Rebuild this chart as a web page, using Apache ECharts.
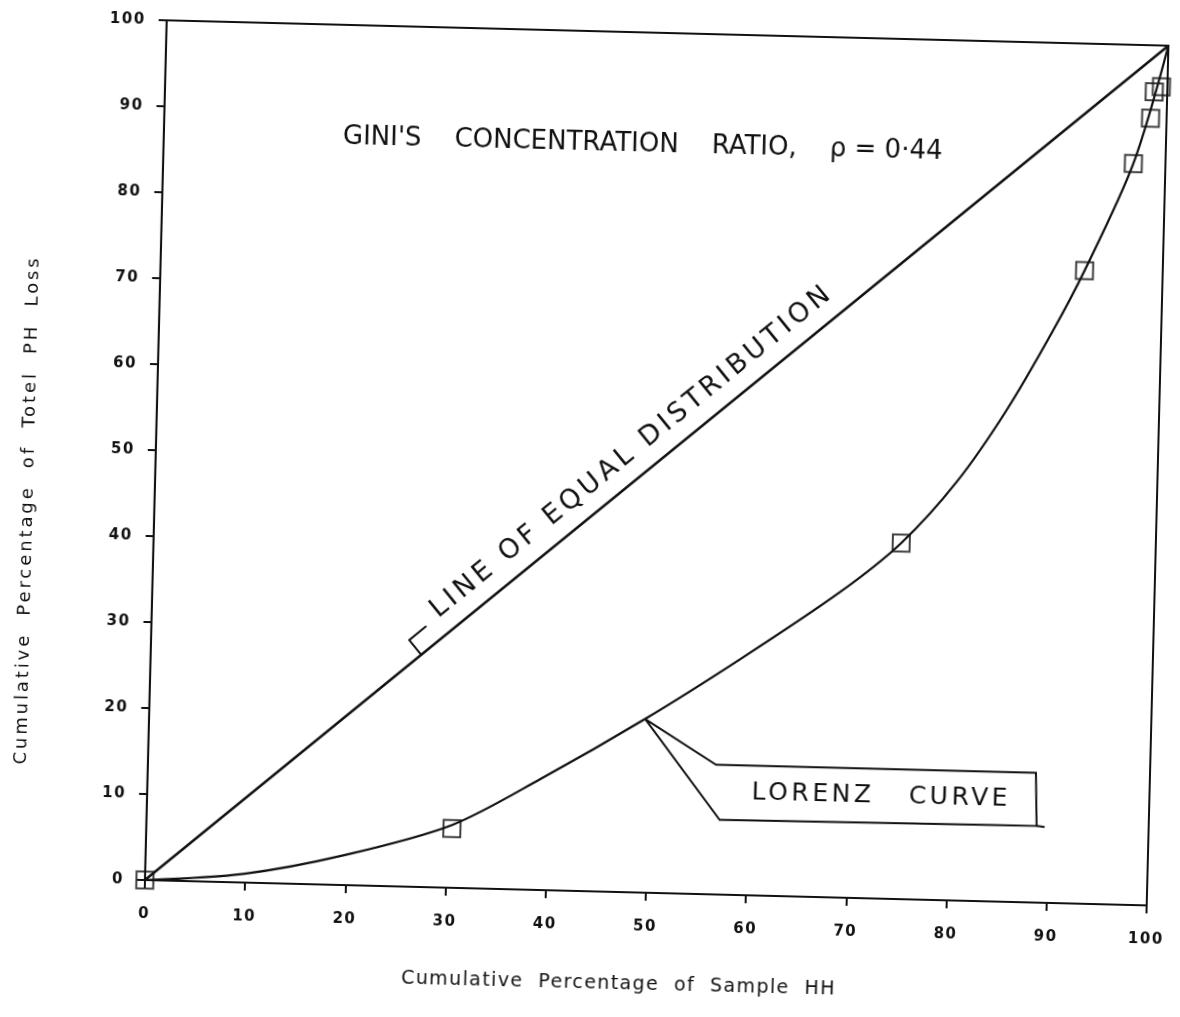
<!DOCTYPE html>
<html>
<head>
<meta charset="utf-8">
<title>Lorenz Curve – Gini's Concentration Ratio</title>
<script src="https://cdn.jsdelivr.net/npm/echarts@6/dist/echarts.min.js"></script>
<style>
  html, body { margin: 0; padding: 0; background: #fff; overflow: hidden; }
  /* the sheet sits slightly askew, so the whole drawing is turned about the origin */
  #chart { width: 1180px; height: 1017px; transform: rotate(1.45deg); transform-origin: 143px 880px; }
</style>
</head>
<body>
<div id="chart"></div>
<script>
// Lorenz curve as traced on the sheet (cumulative % of households vs cumulative % of PH loss)
const lorenzX = [0, 9.8, 19.9, 30.5, 39.2, 49.5, 58.8, 68.6, 74.6, 80.0, 84.7, 89.1, 92.2, 96.8, 100];
const lorenzY = [0, 1.0, 3.5, 7.3, 12.9, 20.2, 27.4, 35.5, 41.4, 48.7, 57.0, 66.3, 73.6, 86.2, 100];

// observed sample points (square markers)
const sampleX = [0, 30.5, 74.6, 92.2, 96.8, 98.4, 98.7, 99.4];
const sampleY = [0, 6.9, 41.4, 73.6, 86.2, 91.5, 94.6, 95.2];

// line of equal distribution
const equalX = [0, 100];
const equalY = [0, 100];

// axis ticks (both axes)
const tickMin = 0;
const tickMax = 100;
const tickStep = 10;

const titleText = "GINI'S    CONCENTRATION    RATIO,    \u03C1 = 0\u00B744";
const equalLabel = 'LINE OF EQUAL DISTRIBUTION';
const lorenzLabel = 'LORENZ   CURVE';
const xName = 'Cumulative  Percentage  of  Sample  HH';
const yName = 'Cumulative  Percentage  of  Totel  PH  Loss';

// Lettering is spaced out. A marker family "lsNN" at the end of a font stack
// (never installed, so the browser skips it) gives the canvas letter spacing in tenths of a px.
(function () {
  const proto = CanvasRenderingContext2D.prototype;
  const spacingOf = font => {
    const m = /\bls(\d+)\b/.exec(font || '');
    return m ? (parseInt(m[1], 10) / 10) + 'px' : '0px';
  };
  ['fillText', 'strokeText', 'measureText'].forEach(fn => {
    const orig = proto[fn];
    proto[fn] = function () {
      if ('letterSpacing' in this) this.letterSpacing = spacingOf(this.font);
      return orig.apply(this, arguments);
    };
  });
})();

const zip = (xs, ys) => xs.map((x, i) => [x, ys[i]]);
const INK = '#111';
const fam = ls => '"DejaVu Sans", ls' + ls;

const chart = echarts.init(document.getElementById('chart'), null, { renderer: 'canvas' });

function axis(name, nameGap, namePad, nameSize, nameLs, labelMargin) {
  return {
    type: 'value',
    min: tickMin,
    max: tickMax,
    interval: tickStep,
    name: name,
    nameLocation: 'middle',
    nameGap: nameGap,
    nameTextStyle: { fontFamily: fam(nameLs), fontSize: nameSize, color: INK, padding: namePad },
    axisLine: { show: true, lineStyle: { color: INK, width: 2 } },
    axisTick: { show: true, inside: false, length: 8, lineStyle: { color: INK, width: 2 } },
    axisLabel: { fontFamily: fam(15), fontSize: 15, fontWeight: 'bold', color: INK, margin: labelMargin },
    splitLine: { show: false }
  };
}

chart.setOption({
  backgroundColor: '#fff',
  animation: false,
  title: {
    text: titleText,
    left: 319,
    top: 114,
    textStyle: { fontFamily: fam(0), fontSize: 26, fontWeight: 'normal', color: INK }
  },
  grid: {
    left: 143, top: 20, width: 1004, height: 860,
    show: true, borderColor: INK, borderWidth: 2, backgroundColor: 'transparent'
  },
  xAxis: axis(xName, 82, [0, 50, 0, 0], 19, 14, 26),
  yAxis: axis(yName, 116, [0, 126, 0, 0], 18, 29, 21),
  series: [
    {
      name: 'Line of equal distribution',
      type: 'line',
      data: zip(equalX, equalY),
      showSymbol: false,
      lineStyle: { color: INK, width: 2.5 },
      z: 3
    },
    {
      name: 'Lorenz curve',
      type: 'line',
      data: zip(lorenzX, lorenzY),
      smooth: 0.3,
      showSymbol: false,
      lineStyle: { color: INK, width: 2.2 },
      z: 3
    },
    {
      name: 'Sample households',
      type: 'scatter',
      data: zip(sampleX, sampleY),
      symbol: 'rect',
      symbolSize: 17,
      clip: false,
      itemStyle: { color: 'rgba(0,0,0,0)', borderColor: INK, borderWidth: 2 },
      z: 4
    }
  ]
});

// annotations anchored to the data
function drawNotes() {
  const px = p => chart.convertToPixel({ gridIndex: 0 }, p);
  const a = px([0, 0]);
  const b = px([100, 100]);
  const len = Math.hypot(b[0] - a[0], b[1] - a[1]);
  const u = [(b[0] - a[0]) / len, (b[1] - a[1]) / len];   // along the equal line
  const n = [u[1], -u[0]];                                  // normal, towards upper left
  const ang = Math.atan2(-u[1], u[0]);
  const at = (p, along, off) => [p[0] + u[0] * along + n[0] * off, p[1] + u[1] * along + n[1] * off];

  const foot = px([27, 27]);
  const knee = at(foot, 0, 19);
  const toe = at(foot, 22, 19);
  const textAt = at(foot, 36, 9);

  const apex = px([lorenzX[5], lorenzY[5]]);
  const box = [
    apex,
    [apex[0] + 72, apex[1] + 44],
    [apex[0] + 392, apex[1] + 44],
    [apex[0] + 394, apex[1] + 97],
    [apex[0] + 77, apex[1] + 99],
    apex
  ];

  chart.setOption({
    graphic: [
      {
        type: 'polyline',
        shape: { points: [foot, knee, toe] },
        style: { stroke: INK, lineWidth: 2, fill: null },
        z: 10
      },
      {
        type: 'text',
        x: textAt[0], y: textAt[1],
        rotation: ang,
        style: {
          text: equalLabel, fill: INK, font: 'normal 27px "DejaVu Sans", ls40',
          textAlign: 'left', textVerticalAlign: 'bottom'
        },
        z: 10
      },
      {
        type: 'polyline',
        shape: { points: box },
        style: { stroke: INK, lineWidth: 2, fill: null },
        z: 10
      },
      {
        type: 'line',
        shape: { x1: apex[0] + 394, y1: apex[1] + 97, x2: apex[0] + 402, y2: apex[1] + 98 },
        style: { stroke: INK, lineWidth: 2 },
        z: 10
      },
      {
        type: 'text',
        x: apex[0] + 238, y: apex[1] + 71,
        style: {
          text: lorenzLabel, fill: INK, font: 'normal 25px "DejaVu Sans", ls35',
          textAlign: 'center', textVerticalAlign: 'middle'
        },
        z: 10
      }
    ]
  });
}
drawNotes();
</script>
</body>
</html>
